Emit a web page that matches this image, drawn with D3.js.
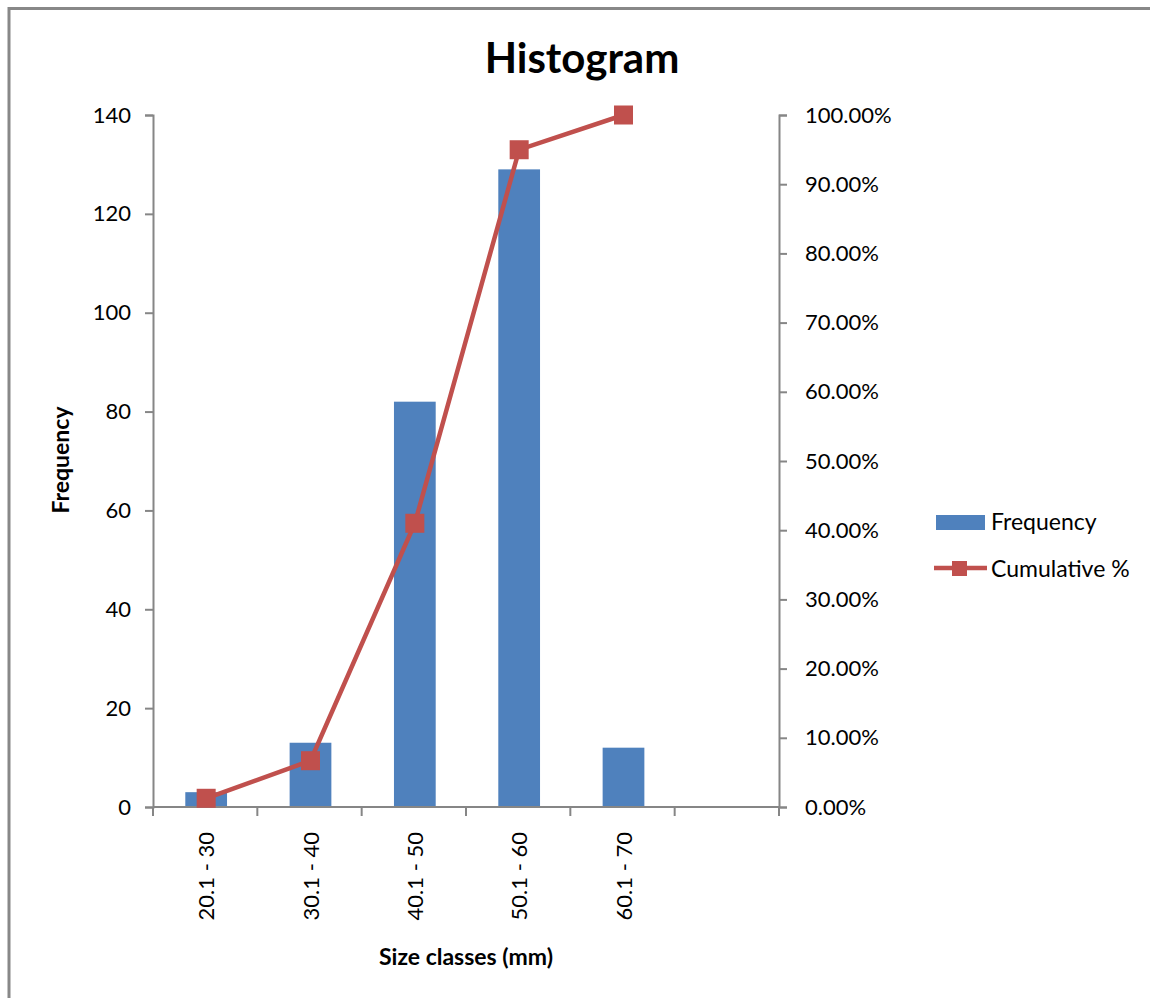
<!DOCTYPE html>
<html>
<head>
<meta charset="utf-8">
<script src="https://cdn.jsdelivr.net/npm/d3@7"></script>
<style>
  body { margin: 0; background: #fff; }
  text { font-family: Lato, "Open Sans", sans-serif; fill: #000; }
</style>
</head>
<body>
<svg id="chart" width="1150" height="998"></svg>
<script>
// data
const categories = ["20.1 - 30", "30.1 - 40", "40.1 - 50", "50.1 - 60", "60.1 - 70", ""];
const frequency = [3, 13, 82, 129, 12, 0];
const cumulative = [1.26, 6.69, 41.0, 94.98, 100.0]; // percent
const freqTicks = [0, 20, 40, 60, 80, 100, 120, 140];
const pctTicks = [0, 10, 20, 30, 40, 50, 60, 70, 80, 90, 100];

const svg = d3.select("#chart");
const plotLeft = 153, plotRight = 779, plotTop = 115, plotBottom = 807;
const axisColor = "#868686";
const barColor = "#4F81BD";
const lineColor = "#C0504D";

// outer frame (only top and left edge visible)
svg.append("line").attr("x1", 9).attr("x2", 1150).attr("y1", 8.5).attr("y2", 8.5)
  .attr("stroke", "#888").attr("stroke-width", 3);
svg.append("line").attr("x1", 9).attr("x2", 9).attr("y1", 7).attr("y2", 998)
  .attr("stroke", "#888").attr("stroke-width", 3);

// scales
const x = d3.scaleBand().domain(categories.map((d, i) => i)).range([plotLeft, plotRight]).paddingInner(0).paddingOuter(0);
const yL = d3.scaleLinear().domain([0, 140]).range([plotBottom, plotTop]);
const yR = d3.scaleLinear().domain([0, 100]).range([plotBottom, plotTop]);
const barW = x.bandwidth() * 0.4;

// bars
svg.append("g").selectAll("rect")
  .data(frequency)
  .join("rect")
  .attr("x", (d, i) => x(i) + x.bandwidth() / 2 - barW / 2 + 1)
  .attr("y", d => yL(d))
  .attr("width", barW)
  .attr("height", d => plotBottom - yL(d))
  .attr("fill", barColor);

// left axis
const gL = svg.append("g").attr("transform", `translate(${plotLeft},0)`)
  .call(d3.axisLeft(yL).tickValues(freqTicks).tickSize(8).tickPadding(14).tickSizeOuter(8));
// right axis
const gR = svg.append("g").attr("transform", `translate(${plotRight},0)`)
  .call(d3.axisRight(yR).tickValues(pctTicks).tickSize(8).tickPadding(18).tickSizeOuter(8)
    .tickFormat(d => d.toFixed(2) + "%"));
// x axis: ticks at category boundaries
const gX = svg.append("g").attr("transform", `translate(0,${plotBottom})`);
gX.append("line").attr("x1", plotLeft).attr("x2", plotRight).attr("y1", 0).attr("y2", 0)
  .attr("stroke", axisColor).attr("stroke-width", 2);
gX.selectAll("line.tk")
  .data(d3.range(categories.length + 1))
  .join("line").attr("class", "tk")
  .attr("x1", i => plotLeft + i * x.bandwidth()).attr("x2", i => plotLeft + i * x.bandwidth())
  .attr("y1", 0).attr("y2", 9)
  .attr("stroke", axisColor).attr("stroke-width", 2);
gX.selectAll("text")
  .data(categories)
  .join("text")
  .attr("transform", (d, i) => `translate(${x(i) + x.bandwidth() / 2 + 9},25) rotate(-90)`)
  .attr("text-anchor", "end")
  .style("font-size", "22px")
  .text(d => d);

[gL, gR].forEach(g => {
  g.select(".domain").attr("stroke", axisColor).attr("stroke-width", 2);
  g.selectAll(".tick line").attr("stroke", axisColor).attr("stroke-width", 2);
  g.selectAll(".tick text").style("font-size", "22px").attr("font-family", "Lato, sans-serif");
});

// cumulative line
const line = d3.line()
  .x((d, i) => x(i) + x.bandwidth() / 2 + 1)
  .y(d => yR(d));
svg.append("path")
  .datum(cumulative)
  .attr("d", line)
  .attr("fill", "none")
  .attr("stroke", lineColor)
  .attr("stroke-width", 4.5);
svg.append("g").selectAll("rect")
  .data(cumulative)
  .join("rect")
  .attr("x", (d, i) => x(i) + x.bandwidth() / 2 + 1 - 9.5)
  .attr("y", d => yR(d) - 9.5)
  .attr("width", 19).attr("height", 19)
  .attr("fill", lineColor);

// titles
svg.append("text").attr("x", 582).attr("y", 73).attr("text-anchor", "middle")
  .style("font-size", "42px").style("font-weight", "bold").text("Histogram");
svg.append("text").attr("transform", "translate(69,460) rotate(-90)").attr("text-anchor", "middle")
  .style("font-size", "23px").style("font-weight", "bold").text("Frequency");
svg.append("text").attr("x", 466).attr("y", 965).attr("text-anchor", "middle")
  .style("font-size", "23px").style("font-weight", "bold").text("Size classes (mm)");

// legend
const lg = svg.append("g");
lg.append("rect").attr("x", 936).attr("y", 515).attr("width", 49).attr("height", 15).attr("fill", barColor);
lg.append("text").attr("x", 991).attr("y", 530).style("font-size", "23px").text("Frequency");
lg.append("line").attr("x1", 934).attr("x2", 987).attr("y1", 568).attr("y2", 568)
  .attr("stroke", lineColor).attr("stroke-width", 4.5);
lg.append("rect").attr("x", 952).attr("y", 561).attr("width", 15).attr("height", 15).attr("fill", lineColor);
lg.append("text").attr("x", 991).attr("y", 577).style("font-size", "23px").text("Cumulative %");
</script>
</body>
</html>
